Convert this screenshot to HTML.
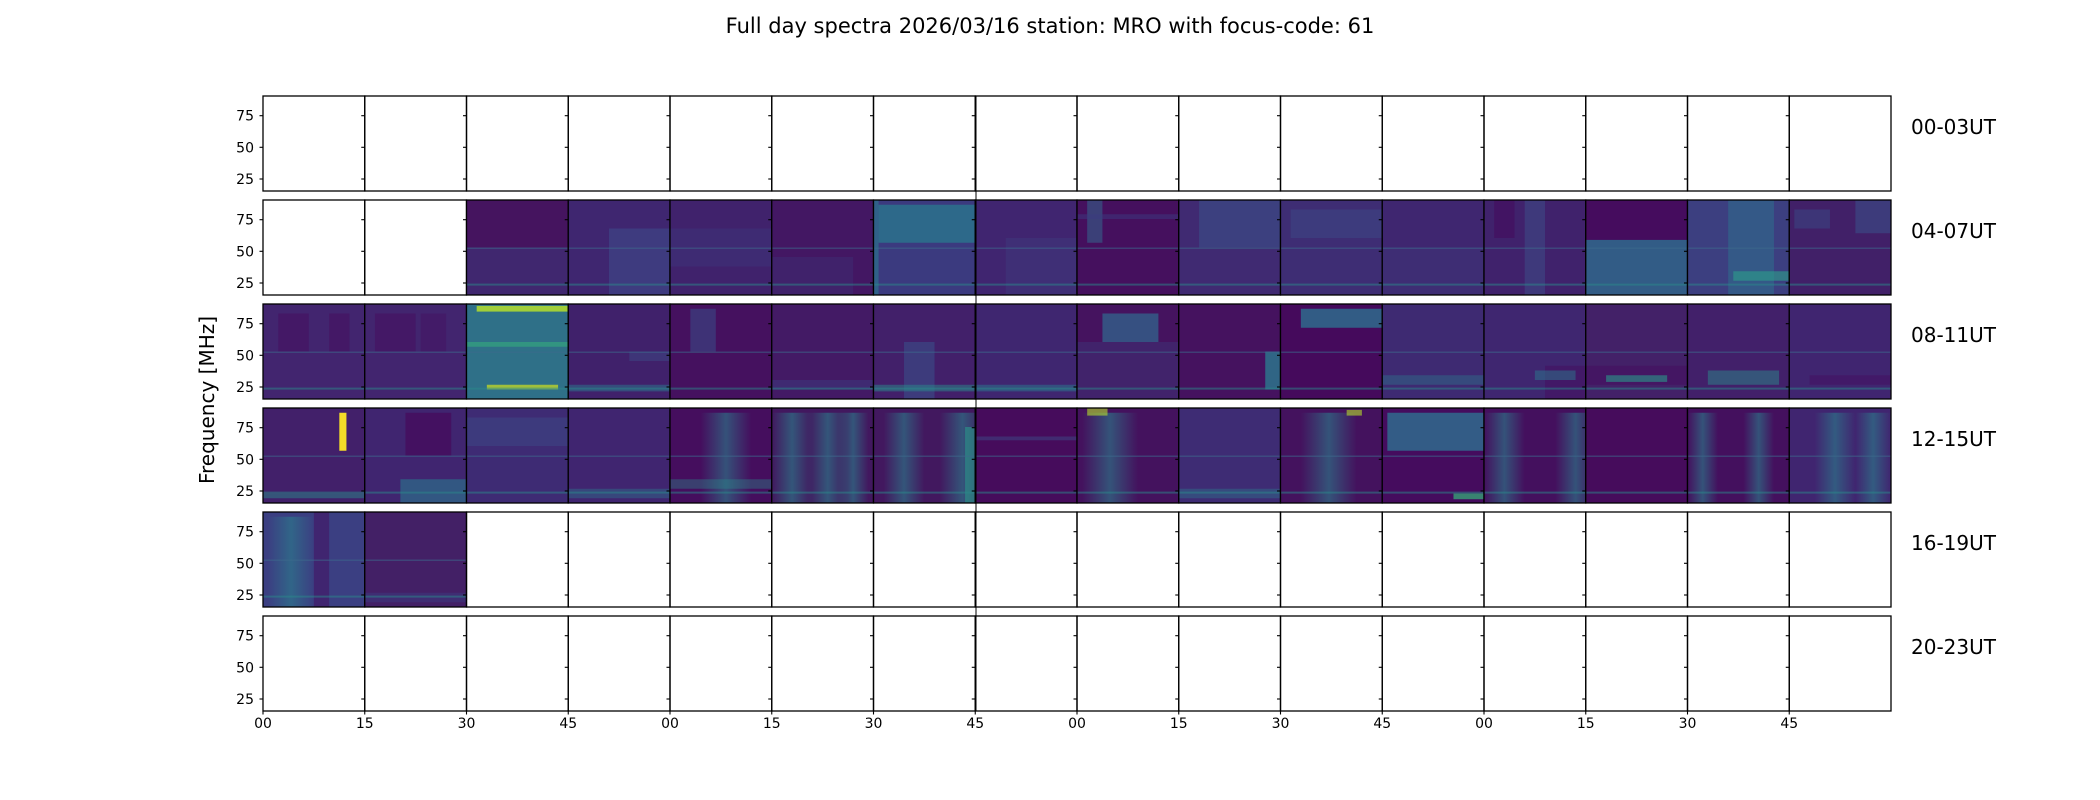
<!DOCTYPE html>
<html><head><meta charset="utf-8">
<style>
html,body{margin:0;padding:0;background:#fff;}
svg{display:block;font-family:"DejaVu Sans","Liberation Sans",sans-serif;}
</style></head>
<body>
<svg id="s" width="2100" height="800" xmlns="http://www.w3.org/2000/svg">
<defs>
<linearGradient id="vb" x1="0" x2="1" y1="0" y2="0">
<stop offset="0" stop-color="#2a7f8c" stop-opacity="0"/>
<stop offset="0.5" stop-color="#2a7f8c" stop-opacity="0.6"/>
<stop offset="1" stop-color="#2a7f8c" stop-opacity="0"/>
</linearGradient>
</defs>
<text x="1050" y="33" font-size="21" text-anchor="middle">Full day spectra 2026/03/16 station: MRO with focus-code: 61</text>
<text transform="translate(214,400) rotate(-90)" font-size="20" text-anchor="middle">Frequency [MHz]</text>
<g id="g"></g>
</svg>
<script>
(function(){
var g=document.getElementById('g');var out='';
var X0=263,W=101.75,H=95,tops=[96,200,304,408,512,616];
var labels=['00-03UT','04-07UT','08-11UT','12-15UT','16-19UT','20-23UT'];
var DK='#450c5e';
var D={
1:{2:['#45145f',[0,0.5,1,1,'#3b3a7f',0.5]],3:['#3f2670',[0.4,0.3,1,1,'#3e4a88',0.6]],4:['#40226c',[0,0.3,1,0.7,'#3b3a7f',0.4]],5:['#431763',[0,0.6,0.8,1,'#3b3a7f',0.3]],
6:['#3b3a7f',[0.05,0.05,1,0.45,'#2a7a8e',0.75],[0,0,0.05,1,'#2a7a8e',0.6]],7:['#402570',[0.3,0.4,1,1,'#3e3f80',0.4]],8:['#45105e',[0.1,0,0.25,0.45,'#35608a',0.6],[0,0.15,1,0.2,'#3b3a7f',0.5]],
9:['#402a72',[0.2,0,1,0.5,'#3b5088',0.6]],10:['#3e2d74',[0.1,0.1,1,0.4,'#3b4a85',0.5]],11:['#3f2670',[0,0.5,1,1,'#3d3478',0.5]],12:['#40226c',[0.4,0,0.6,1,'#3d4a85',0.6],[0.1,0,0.3,0.4,DK,0.6]],
13:[DK,[0,0.42,1,1,'#2d7090',0.8]],14:['#3c3f80',[0.4,0,0.85,1,'#2f6a8c',0.6],[0.45,0.75,1,0.85,'#2da08a',0.6]],15:['#412068',[0.65,0,1,0.35,'#3a4e88',0.6],[0.05,0.1,0.4,0.3,'#3a4a86',0.5]]},
2:{0:['#42256f',[0.15,0.1,0.45,0.5,DK,0.5],[0.65,0.1,0.85,0.5,DK,0.5]],1:['#42256f',[0.1,0.1,0.5,0.5,DK,0.5],[0.55,0.1,0.8,0.5,DK,0.4]],
2:['#2f7088',[0.1,0.02,1,0.08,'#b5de2b',0.85],[0.2,0.85,0.9,0.9,'#d0e11c',0.7],[0,0.4,1,0.45,'#35b779',0.5]],3:['#40216b',[0.6,0.5,1,0.6,'#3b4a85',0.5],[0,0.85,1,0.92,'#2a7a8e',0.5]],
4:['#45115f',[0.2,0.05,0.45,0.5,'#3b4a85',0.6]],5:['#431a65',[0,0.8,1,0.9,'#3b3a7f',0.5]],6:['#42206a',[0.3,0.4,0.6,1,'#3a4e88',0.6],[0,0.85,1,0.92,'#2a8a8a',0.5]],7:['#3f2670',[0,0.85,1,0.92,'#2a7a8e',0.5]],
8:['#45135f',[0.25,0.1,0.8,0.4,'#31658c',0.75],[0,0.4,1,1,'#3d3478',0.5]],9:['#45125f',[0.85,0.5,1,0.9,'#2a7a8e',0.8]],10:['#450a5c',[0.2,0.05,1,0.25,'#2d7190',0.8]],11:['#3e2a72',[0,0.75,1,0.85,'#2a7a8e',0.4]],
12:['#3f2670',[0.6,0.65,1,1,DK,0.5],[0.5,0.7,0.9,0.8,'#2a7a8e',0.5]],13:['#432168',[0,0.65,1,0.85,DK,0.5],[0.2,0.75,0.8,0.82,'#2a9a8a',0.6]],14:['#42206a',[0.2,0.7,0.9,0.85,'#2a8a8a',0.5]],15:['#402570',[0.2,0.75,1,0.85,'#45085c',0.4]]},
3:{0:['#42206a',[0.75,0.05,0.82,0.45,'#fde725',0.95],[0,0.9,1,0.95,'#2a8a8a',0.5]],1:['#402570',[0.4,0.05,0.85,0.5,DK,0.8],[0.35,0.75,1,1,'#2a7a8e',0.6]],2:['#3e2b74',[0,0.1,1,0.4,'#3b4a85',0.5]],3:['#402570',[0,0.85,1,0.95,'#2a7a8e',0.4]],
4:['#450e5e','v',0.3,0.5,[0,0.75,1,0.85,'#2a8a8a',0.4]],5:['#42185f','v',0.0,0.4,'v',0.35,0.4,'v',0.65,0.3],6:['#42185f','v',0.1,0.4,'v',0.65,0.45,[0.9,0.2,1,1,'#2a9a8a',0.6]],7:['#460c5c',[0,0.3,1,0.34,'#3b4a85',0.5]],
8:['#44125e','v',0.05,0.55,[0.1,0,0.3,0.08,'#b5de2b',0.6]],9:['#3e2c74',[0,0.85,1,0.95,'#2a7a8e',0.4]],10:['#44125e','v',0.2,0.55,[0.65,0.02,0.8,0.08,'#b5de2b',0.6]],11:['#450c5e',[0.05,0.05,1,0.45,'#2e7090',0.8],[0.7,0.9,1,0.96,'#35b779',0.7]],
12:['#44105e','v',0.0,0.4,'v',0.7,0.4],13:['#460c5c'],14:['#44105e','v',0.0,0.3,'v',0.55,0.3],15:['#402570','v',0.25,0.4,'v',0.65,0.35]},
4:{0:['#3b3f82','v',0.05,0.45,[0.5,0,0.65,1,DK,0.5]],1:['#432066',[0,0.85,1,0.95,'#3b3a7f',0.5]]}
};
for(var r=0;r<6;r++){
 var y=tops[r];
 for(var i=0;i<16;i++){
  var x=X0+i*W;
  var sp=D[r]&&D[r][i];
  if(sp){
   out+='<rect x="'+x+'" y="'+y+'" width="'+W+'" height="'+H+'" fill="'+sp[0]+'"/>';
   for(var k=1;k<sp.length;k++){
    var f=sp[k];
    if(f==='v'){var a=sp[k+1],w=sp[k+2];k+=2;
      out+='<rect x="'+(x+a*W)+'" y="'+(y+0.05*H)+'" width="'+(w*W)+'" height="'+(0.95*H)+'" fill="url(#vb)"/>';}
    else out+='<rect x="'+(x+f[0]*W)+'" y="'+(y+f[1]*H)+'" width="'+((f[2]-f[0])*W)+'" height="'+((f[3]-f[1])*H)+'" fill="'+f[4]+'" opacity="'+f[5]+'"/>';
   }
   out+='<rect x="'+x+'" y="'+(y+0.5*H)+'" width="'+W+'" height="1.5" fill="#3b6a8c" opacity="0.5"/>';
   out+='<rect x="'+x+'" y="'+(y+0.88*H)+'" width="'+W+'" height="2" fill="#2a8a8a" opacity="0.5"/>';
  }
  out+='<rect x="'+x+'" y="'+y+'" width="'+W+'" height="'+H+'" fill="none" stroke="#000" stroke-width="1.3"/>';
  var ty=[19.7,51.3,83],tl=['75','50','25'];
  for(var t=0;t<3;t++){
   out+='<line x1="'+(x-3.5)+'" x2="'+x+'" y1="'+(y+ty[t])+'" y2="'+(y+ty[t])+'" stroke="#000" stroke-width="1.1"/>';
   if(i==0) out+='<text x="'+(x-9)+'" y="'+(y+ty[t]+5)+'" font-size="14" text-anchor="end">'+tl[t]+'</text>';
  }
  if(r==5){
   out+='<line x1="'+x+'" x2="'+x+'" y1="'+(y+H)+'" y2="'+(y+H+3.5)+'" stroke="#000" stroke-width="1.1"/>';
   out+='<text x="'+x+'" y="'+(y+H+17)+'" font-size="14" text-anchor="middle">'+['00','15','30','45'][i%4]+'</text>';
  }
 }
 out+='<text x="1911" y="'+(y+38)+'" font-size="20">'+labels[r]+'</text>';
}
out+='<line x1="976" x2="976" y1="96" y2="711" stroke="#000" stroke-width="1"/>';
g.innerHTML=out;
})();
</script>
</body></html>
